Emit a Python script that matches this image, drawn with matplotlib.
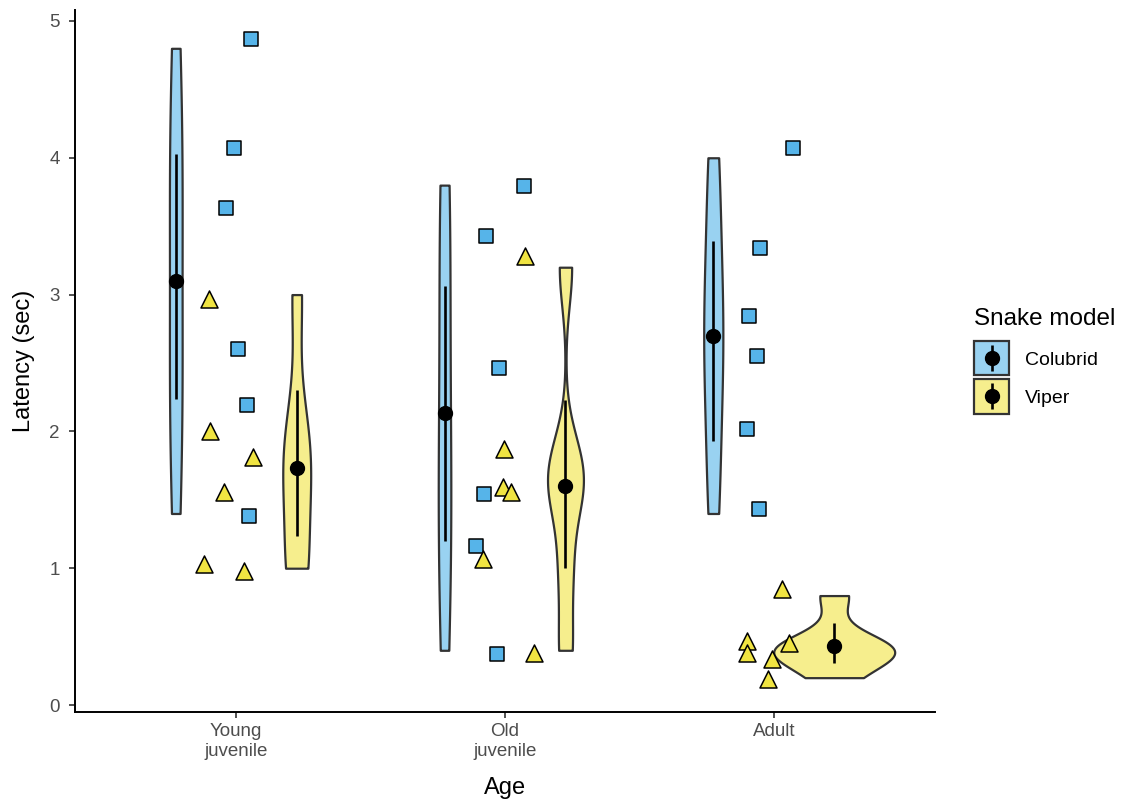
import numpy as np
import matplotlib
matplotlib.use("Agg")
import matplotlib.pyplot as plt
from matplotlib.colors import to_rgba
from matplotlib.lines import Line2D
from matplotlib.patches import Patch, Rectangle
from matplotlib.legend_handler import HandlerBase

plt.rcParams['font.family'] = ['Liberation Sans', 'DejaVu Sans']

ages = ["Young\njuvenile", "Old\njuvenile", "Adult"]
models = ["Colubrid", "Viper"]

# latency (sec) per age group, one list per snake model
colubrid = [[4.8, 4.0, 3.6, 2.6, 2.2, 1.4],
            [3.8, 3.4, 2.4, 1.6, 1.2, 0.4],
            [4.0, 3.4, 2.8, 2.6, 2.0, 1.4]]
viper = [[3.0, 2.0, 1.8, 1.6, 1.0, 1.0],
         [3.2, 1.8, 1.6, 1.6, 1.0, 0.4],
         [0.8, 0.4, 0.4, 0.4, 0.4, 0.2]]

# jitter offsets of the raw points (x in category units, y in sec)
colubrid_jx = [[0.056, -0.007, -0.037, 0.007, 0.041, 0.048],
               [0.071, -0.071, -0.022, -0.078, -0.108, -0.030],
               [0.071, -0.052, -0.093, -0.063, -0.100, -0.056]]
colubrid_jy = [[0.07, 0.07, 0.03, 0.00, -0.01, -0.02],
               [-0.01, 0.03, 0.06, -0.06, -0.04, -0.03],
               [0.07, -0.06, 0.04, -0.05, 0.02, 0.03]]
viper_jx = [[-0.100, -0.097, 0.063, -0.045, -0.119, 0.030],
            [0.074, -0.004, -0.007, 0.022, -0.082, 0.108],
            [0.030, -0.100, -0.100, 0.056, -0.007, -0.022]]
viper_jy = [[-0.03, 0.00, 0.01, -0.04, 0.03, -0.02],
            [0.08, 0.07, -0.01, -0.04, 0.07, -0.02],
            [0.05, 0.07, -0.02, 0.05, -0.06, -0.01]]

# bootstrap CI of the mean
colubrid_lo = [2.24, 1.20, 1.93]
colubrid_hi = [4.03, 3.06, 3.39]
viper_lo = [1.235, 1.00, 0.31]
viper_hi = [2.30, 2.23, 0.60]

BLUE = "#56B4E9"
YELLOW = "#F0E442"
OUTLINE = "#333333"


def nrd0(x):
    hi = np.std(x, ddof=1)
    q75, q25 = np.percentile(x, [75, 25])
    lo = min(hi, (q75 - q25) / 1.34)
    if lo == 0:
        lo = hi
    return 0.9 * lo * len(x) ** -0.2


def kde(x):
    x = np.asarray(x, dtype=float)
    grid = np.linspace(x.min(), x.max(), 512)
    bw = nrd0(x)
    z = (grid[:, None] - x[None, :]) / bw
    d = np.exp(-0.5 * z ** 2).sum(axis=1) / (len(x) * bw * np.sqrt(2 * np.pi))
    return grid, d


class PointrangeKey(HandlerBase):
    # filled square with a vertical bar and a dot, centred on the label text
    def create_artists(self, legend, orig_handle, xdescent, ydescent,
                       width, height, fontsize, trans):
        cx = width / 2 - xdescent
        cy = 0.36 * fontsize
        side = 25
        box = Rectangle((cx - side / 2, cy - side / 2), side, side,
                        facecolor=orig_handle.get_facecolor(), edgecolor=OUTLINE,
                        linewidth=1.6, transform=trans)
        bar = Line2D([cx, cx], [cy - 9.5, cy + 9.5], color='black',
                     linewidth=1.9, solid_capstyle='butt', transform=trans)
        dot = Line2D([cx], [cy], marker='o', markersize=10, color='black',
                     linestyle='none', transform=trans)
        return [box, bar, dot]


groups = []
for i in range(len(ages)):
    groups.append((i + 1 - 0.225, colubrid[i], BLUE))
    groups.append((i + 1 + 0.225, viper[i], YELLOW))

dens = [kde(vals) for _, vals, _ in groups]
dmax = max(d.max() for _, d in dens)

fig = plt.figure(figsize=(11.22, 8), dpi=100)
ax = fig.add_axes([75 / 1122, 88 / 800, 860 / 1122, 702 / 800])

# violins, scaled by area
for (xc, vals, col), (grid, d) in zip(groups, dens):
    hw = 0.225 * d / dmax
    ax.fill_betweenx(grid, xc - hw, xc + hw, facecolor=to_rgba(col, 0.6),
                     edgecolor=OUTLINE, linewidth=1.6, zorder=2)

# jittered raw points
for i in range(len(ages)):
    ax.scatter(i + 1 + np.array(colubrid_jx[i]),
               np.array(colubrid[i]) + np.array(colubrid_jy[i]),
               marker='s', s=90, facecolor=BLUE, edgecolor='black',
               linewidth=1.1, zorder=3)
    ax.scatter(i + 1 + np.array(viper_jx[i]),
               np.array(viper[i]) + np.array(viper_jy[i]),
               marker='^', s=150, facecolor=YELLOW, edgecolor='black',
               linewidth=1.1, zorder=3)

# mean + CI
for i in range(len(ages)):
    for off, vals, lo, hi in [(-0.225, colubrid[i], colubrid_lo[i], colubrid_hi[i]),
                              (0.225, viper[i], viper_lo[i], viper_hi[i])]:
        xc = i + 1 + off
        ax.plot([xc, xc], [lo, hi], color='black', linewidth=1.9, zorder=4,
                solid_capstyle='butt')
        ax.plot(xc, np.mean(vals), 'o', color='black', markersize=10, zorder=5)

ax.set_xlim(0.4, 3.6)
ax.set_ylim(-0.051, 5.08)
ax.set_xticks([1, 2, 3])
ax.set_xticklabels(ages, linespacing=1.25)
ax.set_yticks([0, 1, 2, 3, 4, 5])
for side in ['top', 'right']:
    ax.spines[side].set_visible(False)
for side in ['left', 'bottom']:
    ax.spines[side].set_linewidth(1.4)
ax.tick_params(length=4, width=1.2, color='#333333', labelcolor='#4D4D4D',
               labelsize=13.5)
ax.tick_params(axis='x', pad=4)
ax.tick_params(axis='y', pad=7)
ax.set_xlabel("Age", fontsize=17, labelpad=12)
ax.set_ylabel("Latency (sec)", fontsize=17, labelpad=10)

handles = [Patch(facecolor=to_rgba(col, 0.6)) for col in [BLUE, YELLOW]]
leg = ax.legend(handles, models, title="Snake model", loc='upper left',
                bbox_to_anchor=(974 / 1122, 1 - 308 / 800),
                bbox_transform=fig.transFigure, frameon=False, fontsize=14,
                title_fontsize=17.5, handlelength=1.8, handleheight=2.48,
                labelspacing=0.1, handletextpad=0.8, borderpad=0,
                borderaxespad=0, alignment='left',
                handler_map={Patch: PointrangeKey()})
leg._legend_box.sep = 8

fig.savefig("out.png", dpi=100)
